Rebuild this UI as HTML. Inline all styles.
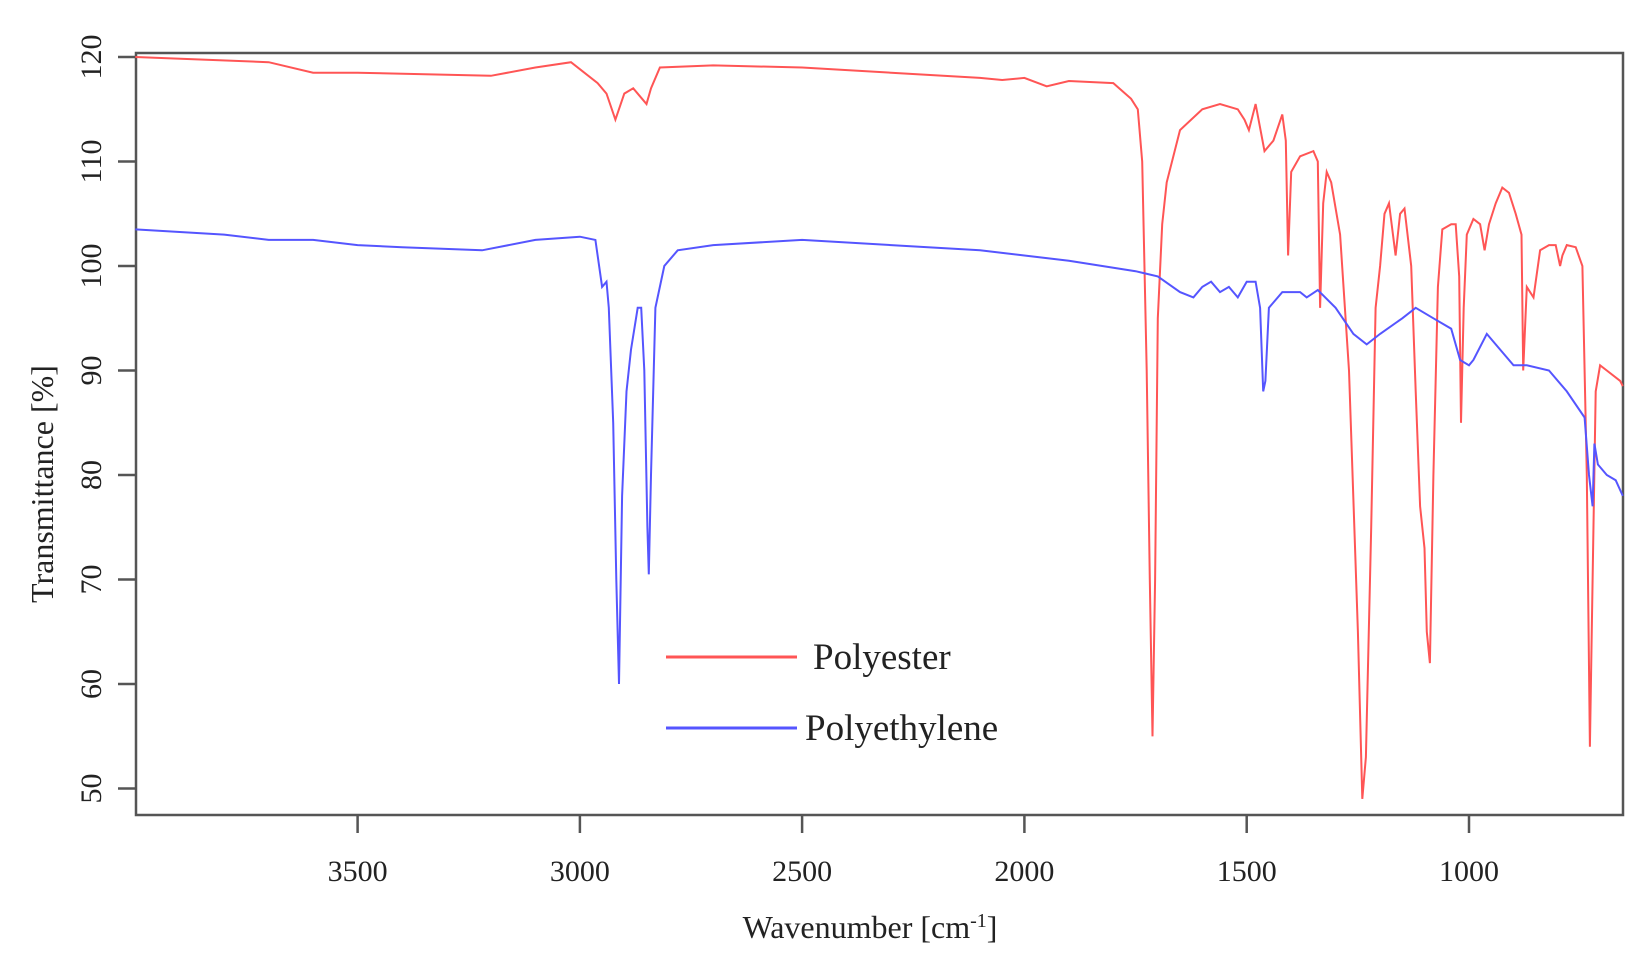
<!DOCTYPE html>
<html><head><meta charset="utf-8"><style>
body{margin:0;background:#fff}
svg{display:block}
text{font-family:"Liberation Serif",serif;fill:#222}
</style></head><body>
<svg id="s" width="1646" height="971" viewBox="0 0 1646 971">
<rect x="136" y="53" width="1487" height="762" fill="none" stroke="#555" stroke-width="2.5"/>
<g stroke="#555" stroke-width="2.5">
<line x1="118" y1="57" x2="136" y2="57"/><line x1="118" y1="161.5" x2="136" y2="161.5"/><line x1="118" y1="266" x2="136" y2="266"/><line x1="118" y1="370.5" x2="136" y2="370.5"/><line x1="118" y1="475" x2="136" y2="475"/><line x1="118" y1="579.5" x2="136" y2="579.5"/><line x1="118" y1="684" x2="136" y2="684"/><line x1="118" y1="788.5" x2="136" y2="788.5"/>
<line x1="357.6" y1="815" x2="357.6" y2="833"/><line x1="579.9" y1="815" x2="579.9" y2="833"/><line x1="802.1" y1="815" x2="802.1" y2="833"/><line x1="1024.4" y1="815" x2="1024.4" y2="833"/><line x1="1246.7" y1="815" x2="1246.7" y2="833"/><line x1="1469" y1="815" x2="1469" y2="833"/>
</g>
<g font-size="30" text-anchor="middle">
<text transform="translate(101,57) rotate(-90)">120</text>
<text transform="translate(101,161.5) rotate(-90)">110</text>
<text transform="translate(101,266) rotate(-90)">100</text>
<text transform="translate(101,370.5) rotate(-90)">90</text>
<text transform="translate(101,475) rotate(-90)">80</text>
<text transform="translate(101,579.5) rotate(-90)">70</text>
<text transform="translate(101,684) rotate(-90)">60</text>
<text transform="translate(101,788.5) rotate(-90)">50</text>
<text x="357.6" y="881">3500</text><text x="579.9" y="881">3000</text><text x="802.1" y="881">2500</text><text x="1024.4" y="881">2000</text><text x="1246.7" y="881">1500</text><text x="1469" y="881">1000</text>
<text x="870" y="938" font-size="32">Wavenumber [cm<tspan dy="-11" font-size="20">-1</tspan><tspan dy="11">]</tspan></text>
<text transform="translate(53,484) rotate(-90)" font-size="32">Transmittance [%]</text>
</g>
<path id="red" fill="none" stroke="#ff5555" stroke-width="2"/>
<path id="blue" fill="none" stroke="#5555ff" stroke-width="2"/>
<line x1="666" y1="657" x2="797" y2="657" stroke="#ff5555" stroke-width="3"/>
<line x1="666" y1="728" x2="797" y2="728" stroke="#5555ff" stroke-width="3"/>
<text x="813" y="669" font-size="37">Polyester</text>
<text x="805" y="740" font-size="37">Polyethylene</text>
</svg>
<script>
function X(w){return 1469-(w-1000)*0.44457}
function Y(v){return 57+(120-v)*10.45}
var red=[4000,120,3700,119.5,3600,118.5,3500,118.5,3200,118.2,3100,119,3020,119.5,2960,117.5,2940,116.5,2920,114,2900,116.5,2880,117,2860,116,2850,115.5,2840,117,2820,119,2700,119.2,2500,119,2300,118.5,2100,118,2050,117.8,2000,118,1950,117.2,1900,117.7,1800,117.5,1760,116,1745,115,1735,110,1725,90,1718,70,1712,55,1706,70,1700,95,1690,104,1680,108,1650,113,1600,115,1560,115.5,1520,115,1505,114,1495,113,1480,115.5,1460,111,1440,112,1420,114.5,1412,112,1407,101,1400,109,1380,110.5,1350,111,1340,110,1335,96,1328,106,1320,109,1310,108,1290,103,1270,90,1250,65,1240,49,1232,53,1220,75,1210,96,1200,100,1190,105,1180,106,1165,101,1155,105,1145,105.5,1130,100,1120,88,1110,77,1100,73,1095,65,1088,62,1080,80,1070,98,1060,103.5,1040,104,1030,104,1022,99,1018,85,1012,96,1005,103,990,104.5,975,104,965,101.5,955,104,940,106,925,107.5,910,107,895,105,882,103,878,90,870,98,855,97,840,101.5,820,102,805,102,795,100,790,101,780,102,760,101.8,745,100,735,80,728,54,722,70,715,88,705,90.5,690,90,660,89,654,88.5];
var blue=[4000,103.5,3800,103,3700,102.5,3600,102.5,3500,102,3400,101.8,3220,101.5,3100,102.5,3000,102.8,2965,102.5,2950,98,2940,98.5,2935,96,2925,85,2918,70,2912,60,2905,78,2895,88,2885,92,2870,96,2862,96,2855,90,2848,75,2845,70.5,2840,80,2830,96,2810,100,2780,101.5,2700,102,2500,102.5,2300,102,2100,101.5,2000,101,1900,100.5,1750,99.5,1700,99,1650,97.5,1620,97,1600,98,1580,98.5,1560,97.5,1540,98,1520,97,1500,98.5,1480,98.5,1470,96,1463,88,1458,89,1450,96,1420,97.5,1380,97.5,1365,97,1340,97.7,1300,96,1260,93.5,1230,92.5,1200,93.5,1150,95,1120,96,1080,95,1040,94,1020,91,1000,90.5,990,91,960,93.5,940,92.5,900,90.5,870,90.5,820,90,780,88,740,85.5,730,80,722,77,718,83,710,81,690,80,670,79.5,654,78];
function d(a){var s="";for(var i=0;i<a.length;i+=2)s+=(i?"L":"M")+X(a[i]).toFixed(1)+","+Y(a[i+1]).toFixed(1);return s}
document.getElementById("red").setAttribute("d",d(red));
document.getElementById("blue").setAttribute("d",d(blue));
</script>
</body></html>
